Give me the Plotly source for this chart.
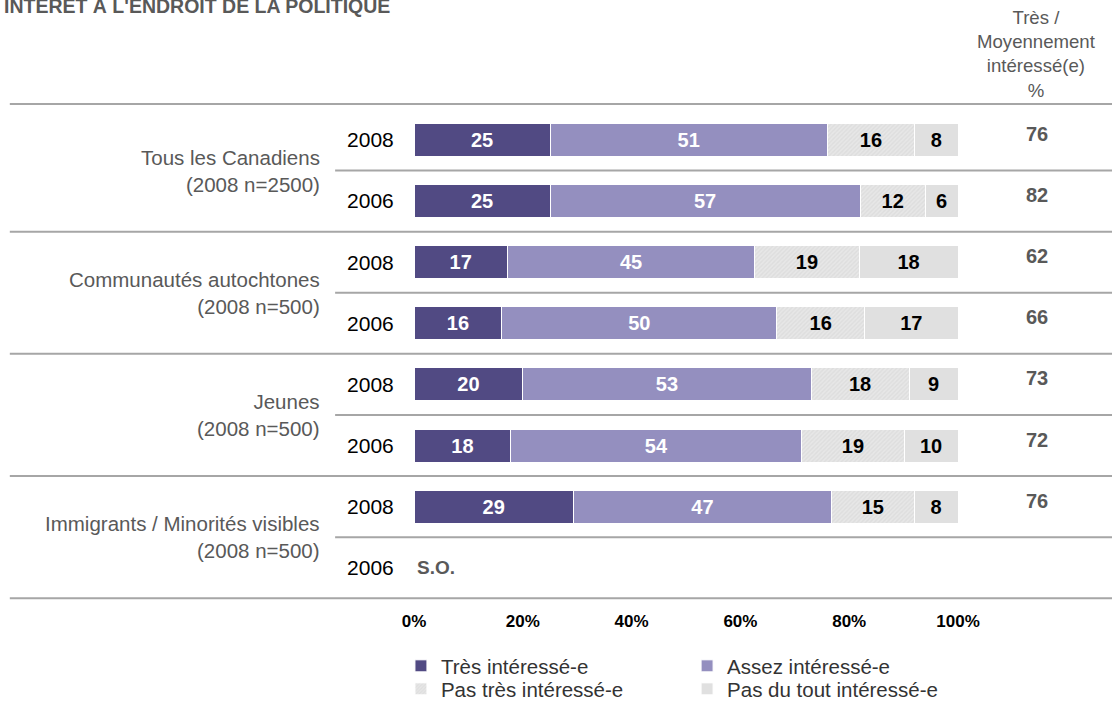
import plotly.graph_objects as go

# Survey data: share interested in politics, by group and year
groups = [
    "Tous les Canadiens<br>(2008 n=2500)",
    "Communautés autochtones<br>(2008 n=500)",
    "Jeunes<br>(2008 n=500)",
    "Immigrants / Minorités visibles<br>(2008 n=500)",
]
years = ["2008", "2006", "2008", "2006", "2008", "2006", "2008", "2006"]
tres_interesse = [25, 25, 17, 16, 20, 18, 29, None]
assez_interesse = [51, 57, 45, 50, 53, 54, 47, None]
pas_tres_interesse = [16, 12, 19, 16, 18, 19, 15, None]
pas_du_tout_interesse = [8, 6, 18, 17, 9, 10, 8, None]
tres_moyennement = [76, 82, 62, 66, 73, 72, 76, None]
x_ticks = [0, 20, 40, 60, 80, 100]
x_tick_labels = ["0%", "20%", "40%", "60%", "80%", "100%"]

FONT = "Liberation Sans, Arial, sans-serif"
rows = list(range(len(years)))

# Page geometry (pixels): plotting rows sit between y=100 and y=600,
# the paper extends to the bottom edge so the legend stays inside it.
W, H = 1112, 710
TOP, BOTTOM_AXIS = 100, 600
PAPER_H = H - TOP


def py(pixel_y):
    """Paper y-coordinate of a pixel row."""
    return (H - pixel_y) / PAPER_H


# name, values, colour, label colour, pattern, legend id, legend (x, pixel y)
series = [
    ("Très intéressé-e", tres_interesse, "#514a83", "white", None,
     "legend", (-0.024, 666)),
    ("Assez intéressé-e", assez_interesse, "#948fbf", "white", None,
     "legend2", (0.502, 666)),
    ("Pas très intéressé-e", pas_tres_interesse, "#e4e4e4", "black",
     dict(shape="/", fgcolor="#d3d3d3", bgcolor="#e7e7e7", size=3, solidity=0.45),
     "legend3", (-0.024, 689)),
    ("Pas du tout intéressé-e", pas_du_tout_interesse, "#e0e0e0", "black", None,
     "legend4", (0.502, 689)),
]

fig = go.Figure()
legend_font = dict(family=FONT, size=20.5, color="#333333")
legend_layouts = {}
for name, vals, color, txtcol, pattern, leg, (lx, ly) in series:
    marker = dict(color=color, line=dict(color="white", width=1))
    if pattern:
        marker["pattern"] = pattern
    fig.add_trace(go.Bar(
        name=name, y=rows, x=vals, orientation="h",
        marker=marker,
        text=[("" if v is None else str(v)) for v in vals],
        texttemplate="%{text}",
        textposition="inside", insidetextanchor="middle",
        constraintext="none", textangle=0,
        textfont=dict(family=FONT, size=20, color=txtcol, weight="bold"),
        legend=leg,
        hoverinfo="skip",
    ))
    legend_layouts[leg] = dict(
        x=lx, xanchor="left", y=py(ly), yanchor="middle",
        orientation="v", font=legend_font, bgcolor="rgba(0,0,0,0)",
    )

# Group labels on the left
for i, g in enumerate(groups):
    fig.add_annotation(
        x=-0.169, xref="paper", xanchor="right",
        y=2 * i + 0.5, yref="y", yanchor="middle",
        text=g, showarrow=False, align="right",
        font=dict(family=FONT, size=20.5, color="#595959"),
    )

# Total column on the right
for r, t in zip(rows, tres_moyennement):
    if t is None:
        continue
    fig.add_annotation(
        x=1.145, xref="paper", xanchor="center",
        y=r, yref="y", yanchor="middle", yshift=6,
        text=str(t), showarrow=False,
        font=dict(family=FONT, size=20, color="#595959", weight="bold"),
    )

# Row with no data
fig.add_annotation(
    x=0.2, xref="x", xanchor="left", y=7, yref="y", yanchor="middle",
    text="S.O.", showarrow=False,
    font=dict(family=FONT, size=19, color="#595959", weight="bold"),
)

fig.add_annotation(
    x=1.145, xref="paper", xanchor="center",
    y=py(53.5), yref="paper", yanchor="middle",
    text="Très /<br>Moyennement<br>intéressé(e)<br>%", showarrow=False,
    font=dict(family=FONT, size=18.6, color="#595959"),
)

fig.add_annotation(
    x=-0.757, xref="paper", xanchor="left",
    y=py(-8), yref="paper", yanchor="top",
    text="INTÉRÊT À L'ENDROIT DE LA POLITIQUE", showarrow=False,
    font=dict(family=FONT, size=19.5, color="#595959", weight="bold"),
)

# Separator lines
line_style = dict(color="#a6a6a6", width=2)
for yv in [-0.59, 1.5, 3.5, 5.5, 7.5]:
    fig.add_shape(type="line", xref="paper", yref="y",
                  x0=-0.743, x1=1.3, y0=yv, y1=yv, line=line_style, layer="below")
for yv in [0.5, 2.5, 4.5, 6.5]:
    fig.add_shape(type="line", xref="paper", yref="y",
                  x0=-0.145, x1=1.3, y0=yv, y1=yv, line=line_style, layer="below")

fig.update_layout(
    width=W, height=H,
    margin=dict(l=414, r=154, t=TOP, b=0),
    paper_bgcolor="white", plot_bgcolor="white",
    barmode="stack", barnorm="percent", bargap=0.46,
    xaxis=dict(range=[0, 100], tickvals=x_ticks, ticktext=x_tick_labels,
               showgrid=False, zeroline=False, showline=False,
               ticks="outside", ticklen=6, tickcolor="rgba(0,0,0,0)",
               tickfont=dict(family=FONT, size=17, color="black", weight="bold"),
               fixedrange=True),
    yaxis=dict(domain=[py(BOTTOM_AXIS), 1],
               range=[7.5286, -0.6547], tickvals=rows, ticktext=years,
               showgrid=False, zeroline=False, showline=False,
               ticks="outside", ticklen=15, tickcolor="rgba(0,0,0,0)",
               tickfont=dict(family=FONT, size=21, color="black"),
               fixedrange=True),
    showlegend=True,
    **legend_layouts,
)

fig.write_html("out.html")
